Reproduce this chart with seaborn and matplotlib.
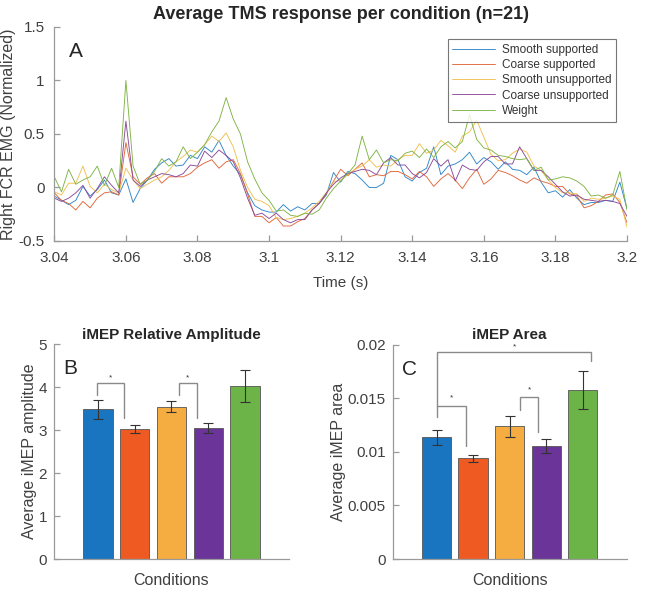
import numpy as np
import pandas as pd
import seaborn as sns
import matplotlib
matplotlib.use("Agg")
import matplotlib.pyplot as plt

# ---------------- data ----------------
# sample grid of the averaged traces (s), 2 ms steps
time_s = np.round(3.040 + 0.002 * np.arange(81), 3)

smooth_supported = [
    -0.08, -0.12, -0.16, -0.12, 0.01, -0.08, -0.02, 0.07, -0.05, -0.07,
    0.08, -0.14, -0.01, 0.07, 0.17, 0.23, 0.27, 0.20, 0.21, 0.30,
    0.27, 0.38, 0.33, 0.44, 0.30, 0.20, 0.12, -0.05, -0.17, -0.21,
    -0.23, -0.23, -0.16, -0.22, -0.18, -0.21, -0.15, -0.15, -0.07, 0.14,
    0.05, 0.15, 0.13, 0.07, 0.00, 0.00, 0.04, 0.30, 0.26, 0.10,
    0.06, 0.14, 0.18, 0.38, 0.12, 0.20, 0.22, 0.26, 0.33, 0.22,
    0.28, 0.24, 0.17, 0.24, 0.17, 0.16, 0.12, 0.19, 0.05, -0.05,
    -0.03, -0.09, -0.02, -0.10, -0.16, -0.14, -0.14, -0.12, -0.13, 0.05,
    -0.20,
]
coarse_supported = [
    -0.05, -0.12, -0.15, -0.21, -0.13, -0.19, -0.10, -0.05, -0.04, -0.07,
    0.42, 0.10, 0.03, 0.09, 0.13, 0.04, 0.10, 0.10, 0.10, 0.13,
    0.19, 0.23, 0.26, 0.18, 0.24, 0.26, 0.13, -0.06, -0.27, -0.27,
    -0.33, -0.28, -0.36, -0.36, -0.32, -0.29, -0.21, -0.15, -0.06, 0.06,
    0.17, 0.11, 0.17, 0.23, 0.10, 0.12, 0.11, 0.15, 0.15, 0.12,
    0.08, 0.15, 0.10, 0.01, 0.08, 0.13, 0.07, -0.01, 0.09, 0.17,
    0.03, 0.08, 0.16, 0.14, 0.11, 0.07, 0.04, 0.09, 0.06, 0.04,
    0.01, 0.01, -0.06, -0.08, -0.19, -0.17, -0.13, -0.07, -0.06, -0.14,
    -0.33,
]
smooth_unsupported = [
    -0.04, -0.07, 0.04, 0.04, 0.20, 0.01, -0.05, 0.03, -0.02, -0.05,
    0.18, 0.07, -0.01, 0.03, 0.07, 0.10, 0.16, 0.24, 0.29, 0.35,
    0.33, 0.40, 0.48, 0.43, 0.51, 0.38, 0.16, 0.00, -0.11, -0.13,
    -0.17, -0.28, -0.30, -0.29, -0.27, -0.24, -0.19, -0.13, -0.05, 0.05,
    0.07, 0.12, 0.17, 0.20, 0.26, 0.19, 0.21, 0.20, 0.26, 0.30,
    0.30, 0.41, 0.32, 0.35, 0.44, 0.39, 0.33, 0.48, 0.52, 0.63,
    0.47, 0.31, 0.25, 0.26, 0.32, 0.36, 0.33, 0.20, 0.16, 0.07,
    0.00, -0.05, -0.05, -0.06, -0.13, -0.10, -0.11, -0.10, -0.08, -0.11,
    -0.37,
]
coarse_unsupported = [
    -0.10, -0.13, -0.10, -0.05, 0.02, -0.10, -0.01, 0.10, 0.02, -0.05,
    0.62, 0.07, 0.01, 0.07, 0.10, 0.13, 0.12, 0.10, 0.13, 0.21,
    0.20, 0.34, 0.28, 0.35, 0.30, 0.24, 0.09, -0.10, -0.26, -0.24,
    -0.29, -0.24, -0.30, -0.33, -0.30, -0.30, -0.21, -0.15, -0.05, 0.03,
    0.09, 0.13, 0.15, 0.17, 0.16, 0.12, 0.23, 0.28, 0.21, 0.21,
    0.13, 0.09, 0.14, 0.27, 0.20, 0.26, 0.06, 0.21, 0.17, 0.16,
    0.24, 0.29, 0.29, 0.22, 0.22, 0.38, 0.27, 0.16, 0.16, 0.10,
    0.03, -0.04, -0.08, -0.07, -0.11, -0.12, -0.13, -0.12, -0.13, -0.15,
    -0.27,
]
weight = [
    0.10, -0.04, 0.17, 0.03, 0.07, 0.10, 0.20, 0.02, 0.18, 0.00,
    1.00, 0.20, 0.03, 0.07, 0.15, 0.27, 0.20, 0.24, 0.38, 0.27,
    0.33, 0.40, 0.52, 0.62, 0.84, 0.64, 0.50, 0.24, 0.08, -0.05,
    -0.12, -0.22, -0.21, -0.26, -0.27, -0.24, -0.25, -0.21, -0.10, -0.01,
    0.06, 0.13, 0.21, 0.48, 0.26, 0.35, 0.23, 0.26, 0.25, 0.32,
    0.34, 0.28, 0.36, 0.28, 0.38, 0.43, 0.37, 0.43, 0.68, 0.45,
    0.37, 0.35, 0.30, 0.29, 0.27, 0.26, 0.27, 0.16, 0.19, 0.07,
    0.08, 0.10, 0.09, 0.06, 0.01, -0.08, -0.07, -0.10, -0.07, 0.15,
    -0.21,
]

conditions = ["Smooth supported", "Coarse supported", "Smooth unsupported",
              "Coarse unsupported", "Weight"]

amp_mean = [3.49, 3.03, 3.55, 3.05, 4.03]
amp_err = [0.22, 0.10, 0.12, 0.12, 0.38]

area_mean = [0.01138, 0.00939, 0.01238, 0.01054, 0.01577]
area_err = [0.00070, 0.00036, 0.00100, 0.00065, 0.00174]

line_colors = ["#2f86c8", "#e0673a", "#f0c050", "#8a4a9a", "#80b445"]
bar_colors = ["#1a75c0", "#ee5a22", "#f5ac40", "#6a3498", "#6cb348"]

# ---------------- style ----------------
sns.set_style("ticks")
plt.rcParams["font.family"] = ["Liberation Sans", "DejaVu Sans"]
AX_GRAY = "#9a9a9a"
TXT = "#404040"


def matlab_axes(ax, ypad):
    sns.despine(ax=ax)
    for s in ("left", "bottom"):
        ax.spines[s].set_color(AX_GRAY)
        ax.spines[s].set_linewidth(0.9)
    ax.tick_params(direction="in", color=AX_GRAY, labelcolor=TXT,
                   labelsize=11, length=4, width=0.9)
    ax.tick_params(axis="x", pad=7)
    ax.tick_params(axis="y", pad=ypad)


def fmt(v):
    s = ("%.3f" % v).rstrip("0").rstrip(".")
    return s if s != "-0" else "0"


fig = plt.figure(figsize=(6.45, 6.04), dpi=100)

# ---------------- panel A ----------------
axA = fig.add_axes([0.0842, 0.601, 0.8879, 0.3543])
traces = pd.DataFrame({
    "time": np.tile(time_s, 5),
    "value": np.concatenate([smooth_supported, coarse_supported,
                             smooth_unsupported, coarse_unsupported, weight]),
    "condition": np.repeat(conditions, len(time_s)),
})
sns.lineplot(data=traces, x="time", y="value", hue="condition",
             hue_order=conditions, palette=line_colors, estimator=None,
             linewidth=0.65, ax=axA)
axA.set_xlim(3.04, 3.2)
axA.set_ylim(-0.5, 1.5)
xt = [3.04, 3.06, 3.08, 3.1, 3.12, 3.14, 3.16, 3.18, 3.2]
axA.set_xticks(xt)
axA.set_xticklabels([fmt(v) for v in xt])
yt = [-0.5, 0, 0.5, 1, 1.5]
axA.set_yticks(yt)
axA.set_yticklabels([fmt(v) for v in yt])
matlab_axes(axA, 7)
axA.set_xlabel("Time (s)", fontsize=11, color=TXT, labelpad=8)
axA.set_ylabel("Right FCR EMG (Normalized)", fontsize=11.5, color=TXT,
               labelpad=2)
axA.set_title("Average TMS response per condition (n=21)", fontsize=13,
              fontweight="bold", pad=6)
axA.text(0.025, 0.93, "A", transform=axA.transAxes, fontsize=15, va="top")
leg = axA.legend(loc="upper right", bbox_to_anchor=(0.981, 0.944),
                 fontsize=8.5, frameon=True, fancybox=False, handlelength=3.6,
                 labelspacing=0.28, borderpad=0.4, handletextpad=0.6,
                 borderaxespad=0)
leg.get_frame().set_edgecolor("#555555")
leg.get_frame().set_linewidth(0.8)
for t in leg.get_texts():
    t.set_color("#333333")


# ---------------- bar panels ----------------
def bar_panel(ax, means, errs, ylim, yticks, ylabel, title, letter):
    sns.barplot(x=conditions, y=means, hue=conditions, palette=bar_colors,
                legend=False, width=0.8, edgecolor="#555555", linewidth=0.6,
                saturation=1, ax=ax)
    ax.errorbar(range(len(means)), means, yerr=errs, fmt="none",
                ecolor="#333333", elinewidth=0.8, capsize=3.5, capthick=0.8)
    ax.set_xlim(-1.2, 5.2)
    ax.set_ylim(*ylim)
    ax.set_yticks(yticks)
    ax.set_yticklabels([fmt(v) for v in yticks])
    ax.set_xticks([])
    matlab_axes(ax, 5)
    ax.set_xlabel("Conditions", fontsize=11.5, color=TXT, labelpad=10)
    ax.set_ylabel(ylabel, fontsize=11.5, color=TXT, labelpad=1)
    ax.set_title(title, fontsize=11, fontweight="bold", pad=4)
    ax.text(0.04, 0.93, letter, transform=ax.transAxes, fontsize=15, va="top")


def bracket(ax, x0, x1, y0, y1, top, star_x, star_y):
    ax.plot([x0, x0, x1, x1], [y0, top, top, y1], color="#8a8a8a", lw=1.0,
            solid_joinstyle="miter")
    ax.text(star_x, star_y, "*", ha="center", va="center", fontsize=6,
            color="#333333")


axB = fig.add_axes([0.0837, 0.0745, 0.3643, 0.3555])
bar_panel(axB, amp_mean, amp_err, (0, 5), [0, 1, 2, 3, 4, 5],
          "Average iMEP amplitude", "iMEP Relative Amplitude", "B")
bracket(axB, -0.04, 0.71, 3.82, 3.29, 4.09, 0.33, 4.22)
bracket(axB, 2.20, 2.70, 3.81, 3.29, 4.09, 2.44, 4.22)

axC = fig.add_axes([0.6088, 0.0745, 0.3628, 0.3548])
bar_panel(axC, area_mean, area_err, (0, 0.02),
          [0, 0.005, 0.01, 0.015, 0.02],
          "Average iMEP area", "iMEP Area", "C")
bracket(axC, 0.0, 4.23, 0.01325, 0.01844, 0.01928, 2.13, 0.01975)
bracket(axC, 0.0, 0.80, 0.01424, 0.01051, 0.01424, 0.40, 0.01500)
bracket(axC, 2.29, 2.78, 0.01393, 0.01182, 0.01512, 2.53, 0.01578)

fig.savefig("out.png", dpi=100)
